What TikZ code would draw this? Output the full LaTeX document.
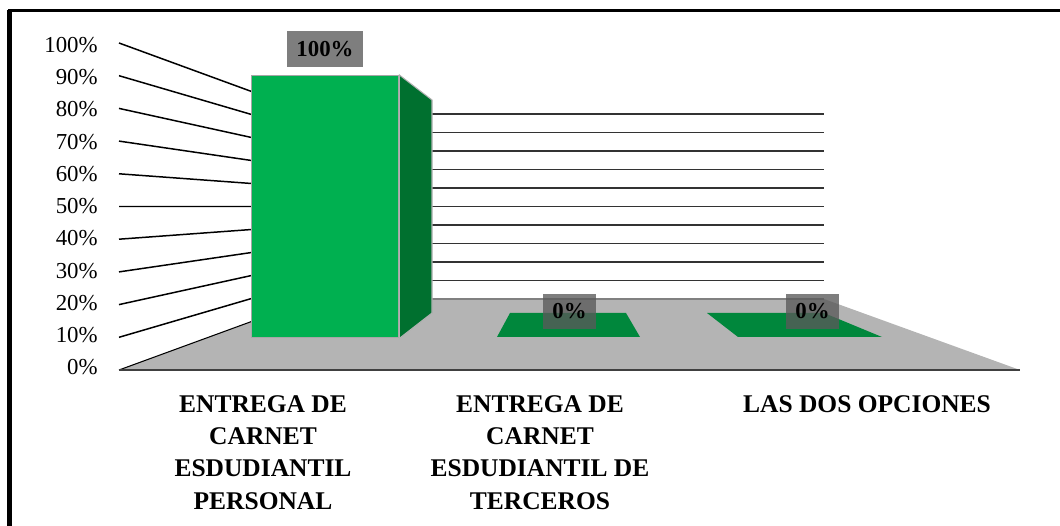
\documentclass[tikz,border=0pt]{standalone}
\usepackage{fontspec}
\setmainfont{Liberation Serif}
\usetikzlibrary{positioning,calc}
\definecolor{barfront}{HTML}{00B050}
\definecolor{barside}{HTML}{00702F}
\definecolor{barflat}{HTML}{00873C}
\definecolor{floorgray}{HTML}{B4B4B4}
\definecolor{axisgray}{HTML}{404040}
\definecolor{labelfill}{HTML}{5A5A5A}

\tikzset{
  ticklabel/.style={anchor=east, inner sep=0pt, font=\fontsize{13}{15}\selectfont},
  catlabel/.style={anchor=north, inner sep=0pt, align=center,
    font=\fontsize{14.5}{18.4}\selectfont\bfseries},
  datalabel/.style={fill=labelfill, fill opacity=0.78, text opacity=1,
    minimum height=0.71cm, inner sep=0pt, font=\fontsize{13}{15}\selectfont\bfseries},
  spoke/.style={line width=0.85pt, black},
  gridline/.style={line width=0.7pt, black!80},
}

\begin{document}
\begin{tikzpicture}[x=0.02cm, y=-0.02cm]
  \useasboundingbox (0,0) rectangle (1060,526);

  % Frame
  \draw[line width=2.8pt] (9.8,526) -- (9.8,10.5);
  \draw[line width=1.9pt] (8.4,10.5) -- (1060,10.5);

  % Floor corners
  \coordinate (fl) at (119,370);
  \coordinate (bl) at (313,299);
  \coordinate (br) at (824,299);
  \coordinate (fr) at (1020,370);

  % Side and back walls
  \foreach \i in {1,...,10} {
    \draw[spoke] (119,{370-32.7*\i}) -- (313,{299-18.5*\i});
    \draw[gridline] (313,{299-18.5*\i}) -- (824,{299-18.5*\i});
  }

  % Floor
  \fill[floorgray] (fl) -- (bl) -- (br) -- (fr) -- cycle;
  \draw[line width=0.6pt] (fl) -- (bl);
  \draw[gray, line width=0.8pt] (bl) -- (br);
  \draw[axisgray, line width=1.6pt] (fl) -- (fr);

  % Bars
  \node[fill=barfront, draw=gray!70, line width=0.8pt, inner sep=0pt,
    minimum width=2.94cm, minimum height=5.24cm, anchor=north west] (bar1) at (251,75) {};
  \filldraw[fill=barside, draw=gray!60, line width=0.6pt]
    (bar1.north east) -- (432,100) -- (432,313) -- (bar1.south east) -- cycle;
  \fill[barflat] (497,337) -- (510,313) -- (626,313) -- (640,337) -- cycle;
  \fill[barflat] (738,337) -- (707,313) -- (824,313) -- (882,337) -- cycle;

  % Data labels
  \node[datalabel, minimum width=1.52cm] (val1) at (325,49) {100\%};
  \node[datalabel, minimum width=1.06cm] (val2) at (569.5,311.5) {0\%};
  \node[datalabel, minimum width=1.06cm] (val3) at (812.5,311.5) {0\%};

  % Axis labels
  \foreach \p [count=\i from 0] in {0,10,...,100}
    \node[ticklabel] (tick\p) at (98,{367.5-32.25*\i}) {\p\%};

  % Category labels
  \node[catlabel] (cat1) at (263,395) {ENTREGA DE\\CARNET\\ESDUDIANTIL\\PERSONAL};
  \node[catlabel] (cat2) at (540,395) {ENTREGA DE\\CARNET\\ESDUDIANTIL DE\\TERCEROS};
  \node[catlabel] (cat3) at (867,395) {LAS DOS OPCIONES};
\end{tikzpicture}
\end{document}
